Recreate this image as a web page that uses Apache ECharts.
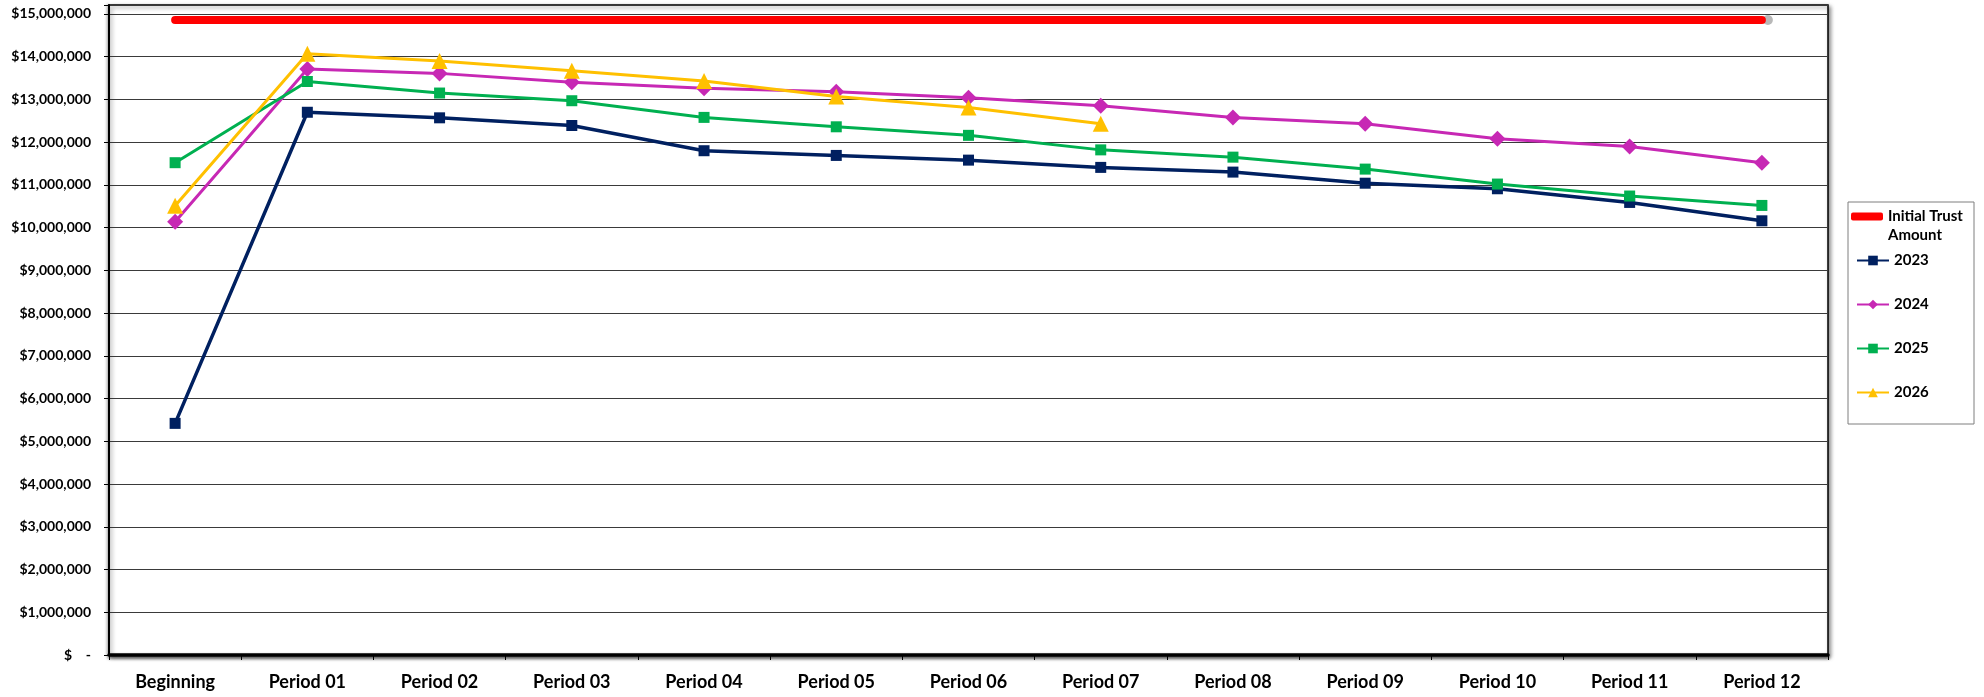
<!DOCTYPE html>
<html>
<head>
<meta charset="utf-8">
<script src="https://cdn.jsdelivr.net/npm/echarts@6/dist/echarts.min.js"></script>
<style>
  html, body { margin: 0; padding: 0; background: #fff; }
  #chart { width: 1984px; height: 697px; }
</style>
</head>
<body>
<div id="chart"></div>
<script>
// data
const categories = ['Beginning', 'Period 01', 'Period 02', 'Period 03', 'Period 04', 'Period 05', 'Period 06',
  'Period 07', 'Period 08', 'Period 09', 'Period 10', 'Period 11', 'Period 12'];
const initialTrust = [14860000, 14860000, 14860000, 14860000, 14860000, 14860000, 14860000,
  14860000, 14860000, 14860000, 14860000, 14860000, 14860000];
const y2023 = [5420000, 12700000, 12570000, 12390000, 11800000, 11690000, 11580000, 11410000, 11300000, 11040000, 10910000, 10590000, 10160000];
const y2024 = [10140000, 13710000, 13610000, 13400000, 13260000, 13180000, 13040000, 12850000, 12580000, 12430000, 12080000, 11900000, 11520000];
const y2025 = [11520000, 13420000, 13150000, 12970000, 12580000, 12360000, 12160000, 11820000, 11650000, 11370000, 11020000, 10740000, 10520000];
const y2026 = [10510000, 14070000, 13900000, 13670000, 13430000, 13070000, 12810000, 12430000];

const chart = echarts.init(document.getElementById('chart'));

const fmtMoney = function (v) {
  if (v === 0) return '$    -';
  if (v % 1000000 !== 0) return '';
  return '$' + v.toLocaleString('en-US');
};

const legendText = { fontFamily: 'Lato', fontWeight: 'bold', fontSize: 15, color: '#000' };

const option = {
  animation: false,
  textStyle: { fontFamily: 'Lato', fontWeight: 'bold', color: '#000' },
  grid: {
    left: 109, right: 156, top: 5, bottom: 42,
    show: true,
    backgroundColor: '#fff',
    borderColor: '#000',
    borderWidth: 1.5,
    shadowColor: 'rgba(0,0,0,0.45)',
    shadowBlur: 4,
    shadowOffsetX: 2,
    shadowOffsetY: 2
  },
  graphic: [{
    type: 'rect',
    shape: { x: 1848, y: 202, width: 126, height: 222 },
    style: { fill: '#fff', stroke: '#7f7f7f', lineWidth: 1 },
    z: -1
  }],
  legend: [{
    data: [{ name: 'Initial Trust Amount', icon: 'roundRect' }],
    orient: 'vertical',
    left: 1851, top: 188,
    padding: 0,
    itemWidth: 32, itemHeight: 8,
    // blank first line so the label's first line sits level with the icon
    formatter: function () { return '{p| }\n{t|Initial Trust}\n{t|Amount}'; },
    textStyle: Object.assign({
      lineHeight: 19,
      rich: {
        p: Object.assign({ lineHeight: 19 }, legendText),
        t: Object.assign({ lineHeight: 19 }, legendText)
      }
    }, legendText)
  }, {
    data: ['2023', '2024', '2025', '2026'],
    orient: 'vertical',
    left: 1851, top: 247,
    itemWidth: 32, itemHeight: 12,
    itemGap: 27,
    textStyle: Object.assign({ lineHeight: 17 }, legendText)
  }],
  xAxis: {
    type: 'category',
    data: categories,
    boundaryGap: true,
    axisLine: { lineStyle: { color: '#000', width: 3.5, shadowColor: 'rgba(0,0,0,0.5)', shadowBlur: 3, shadowOffsetY: 2 } },
    axisTick: { show: true, length: 5, lineStyle: { color: '#000', width: 1 } },
    axisLabel: { fontFamily: 'Lato', fontWeight: 'bold', fontSize: 18, color: '#000', margin: 18 },
    splitLine: { show: false }
  },
  yAxis: {
    type: 'value',
    min: 0,
    max: 15210000,
    interval: 1000000,
    axisLine: { show: true, lineStyle: { color: '#000', width: 2, shadowColor: 'rgba(0,0,0,0.4)', shadowBlur: 3, shadowOffsetX: -1 } },
    axisTick: { show: true, length: 5, lineStyle: { color: '#000' } },
    axisLabel: { fontFamily: 'Lato', fontWeight: 'bold', fontSize: 14, color: '#000', margin: 18, formatter: fmtMoney },
    splitLine: { show: true, lineStyle: { color: '#3a3a3a', width: 1.2 } }
  },
  series: [
    {
      name: 'end marker',
      type: 'scatter',
      data: [[categories.length - 1, initialTrust[initialTrust.length - 1]]],
      symbol: 'circle',
      symbolSize: 10,
      symbolOffset: [6, 0],
      itemStyle: { color: '#a6a6a6' },
      z: 1,
      silent: true
    },
    {
      name: 'Initial Trust Amount',
      type: 'line',
      data: initialTrust,
      symbol: 'none',
      lineStyle: { color: '#ff0000', width: 8, cap: 'round' },
      itemStyle: { color: '#ff0000' },
      z: 2
    },
    {
      name: '2023',
      type: 'line',
      data: y2023,
      symbol: 'rect',
      symbolSize: 11,
      lineStyle: { color: '#002060', width: 3.5 },
      itemStyle: { color: '#002060' },
      z: 3
    },
    {
      name: '2024',
      type: 'line',
      data: y2024,
      symbol: 'diamond',
      symbolSize: 16,
      lineStyle: { color: '#c728b4', width: 3 },
      itemStyle: { color: '#c728b4' },
      z: 4
    },
    {
      name: '2025',
      type: 'line',
      data: y2025,
      symbol: 'rect',
      symbolSize: 11,
      lineStyle: { color: '#00b050', width: 3 },
      itemStyle: { color: '#00b050' },
      z: 5
    },
    {
      name: '2026',
      type: 'line',
      data: y2026,
      symbol: 'triangle',
      symbolSize: 16,
      lineStyle: { color: '#ffc000', width: 3 },
      itemStyle: { color: '#ffc000' },
      z: 6
    }
  ]
};

chart.setOption(option);
</script>
</body>
</html>
